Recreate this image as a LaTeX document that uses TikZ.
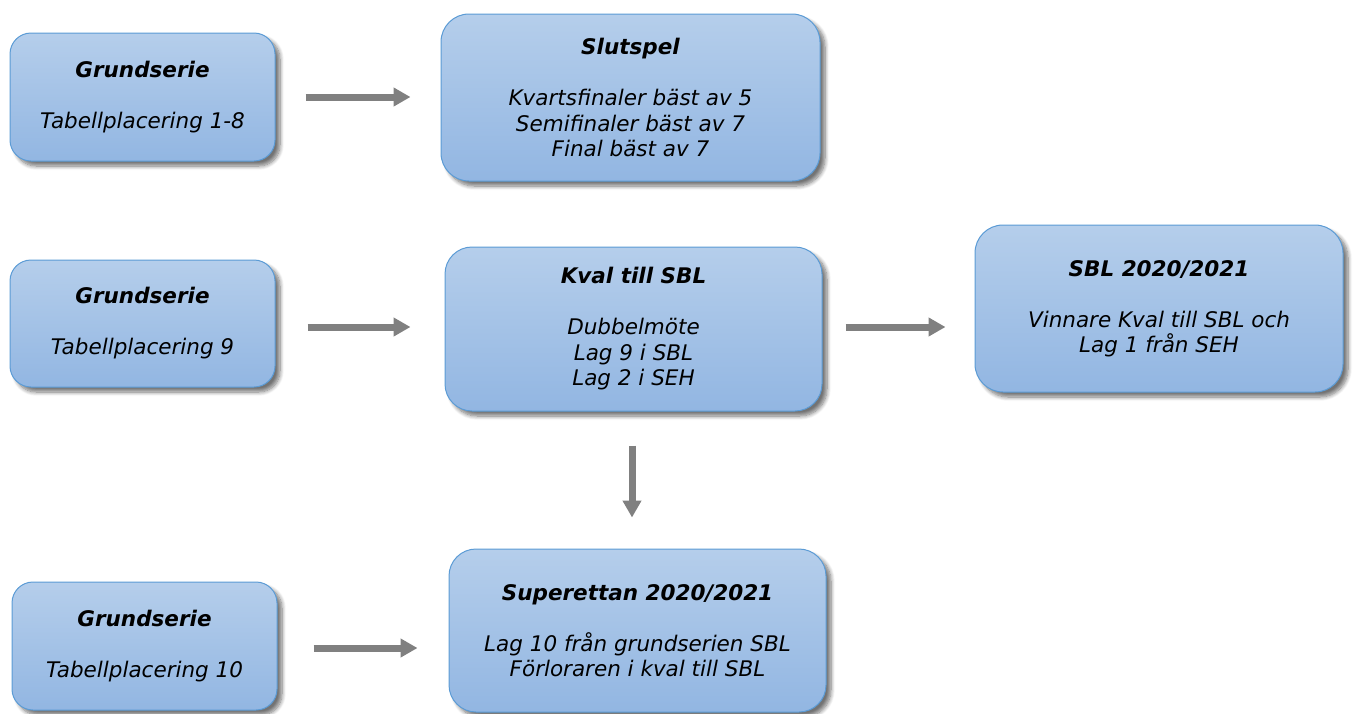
\documentclass[tikz,border=0pt]{standalone}
\usepackage{fontspec}
\setmainfont{DejaVu Sans}
\usetikzlibrary{arrows.meta,shadows.blur}
\definecolor{boxtop}{HTML}{B5CEEB}
\definecolor{boxbot}{HTML}{92B6E2}
\definecolor{boxline}{HTML}{5B9BD5}
\definecolor{arrgray}{HTML}{808080}
\tikzset{
  stagebox/.style={rectangle, draw=boxline, line width=1pt, top color=boxtop, bottom color=boxbot,
    align=center, inner sep=0pt, font=\fontsize{21.5}{25.5}\selectfont\itshape,
    blur shadow={shadow xshift=5pt, shadow yshift=-5pt, shadow blur steps=8, shadow opacity=55, shadow blur radius=4pt}},
  flowarrow/.style={draw=arrgray, line width=7pt, -{Triangle[length=17pt,width=18pt]}}
}
\begin{document}
\begin{tikzpicture}[x=1pt,y=-1pt]
\useasboundingbox (0,0) rectangle (1356,713);
\node[stagebox, minimum width=265pt, minimum height=128pt, rounded corners=21pt] (g1) at (142.5,97)
  {\textbf{Grundserie}\\[25.5pt]Tabellplacering 1-8};
\node[stagebox, minimum width=379pt, minimum height=167pt, rounded corners=28pt] (slut) at (630.5,97.5)
  {\textbf{Slutspel}\\[25.5pt]Kvartsfinaler bäst av 5\\Semifinaler bäst av 7\\Final bäst av 7};
\node[stagebox, minimum width=265pt, minimum height=127pt, rounded corners=21pt] (g2) at (142.5,323.5)
  {\textbf{Grundserie}\\[25.5pt]Tabellplacering 9};
\node[stagebox, minimum width=377pt, minimum height=164pt, rounded corners=27pt] (kval) at (633.5,329)
  {\textbf{Kval till SBL}\\[25.5pt]Dubbelmöte\\Lag 9 i SBL\\Lag 2 i SEH};
\node[stagebox, minimum width=368pt, minimum height=167pt, rounded corners=28pt] (sbl) at (1159,308.5)
  {\textbf{SBL 2020/2021}\\[25.5pt]Vinnare Kval till SBL och\\Lag 1 från SEH};
\node[stagebox, minimum width=377pt, minimum height=163pt, rounded corners=27pt] (sup) at (637.5,630.5)
  {\textbf{Superettan 2020/2021}\\[25.5pt]Lag 10 från grundserien SBL\\Förloraren i kval till SBL};
\node[stagebox, minimum width=265pt, minimum height=128pt, rounded corners=21pt] (g3) at (144.5,646)
  {\textbf{Grundserie}\\[25.5pt]Tabellplacering 10};

\draw[flowarrow, shorten <=30pt, shorten >=30pt] (g1.east) -- (g1.east -| slut.west);
\draw[flowarrow, shorten <=32pt, shorten >=34pt] (g2.east) ++(0,3.5) coordinate (g2a) -- (g2a -| kval.west);
\draw[flowarrow, shorten <=23pt, shorten >=29pt] (kval.east) ++(0,-2) coordinate (kva) -- (kva -| sbl.west);
\draw[flowarrow, shorten <=34pt, shorten >=31pt] (kval.south) ++(-1.5,0) coordinate (kvb) -- (kvb |- sup.north);
\draw[flowarrow, shorten <=36pt, shorten >=31pt] (g3.east) ++(0,2) coordinate (g3a) -- (g3a -| sup.west);
\end{tikzpicture}
\end{document}
